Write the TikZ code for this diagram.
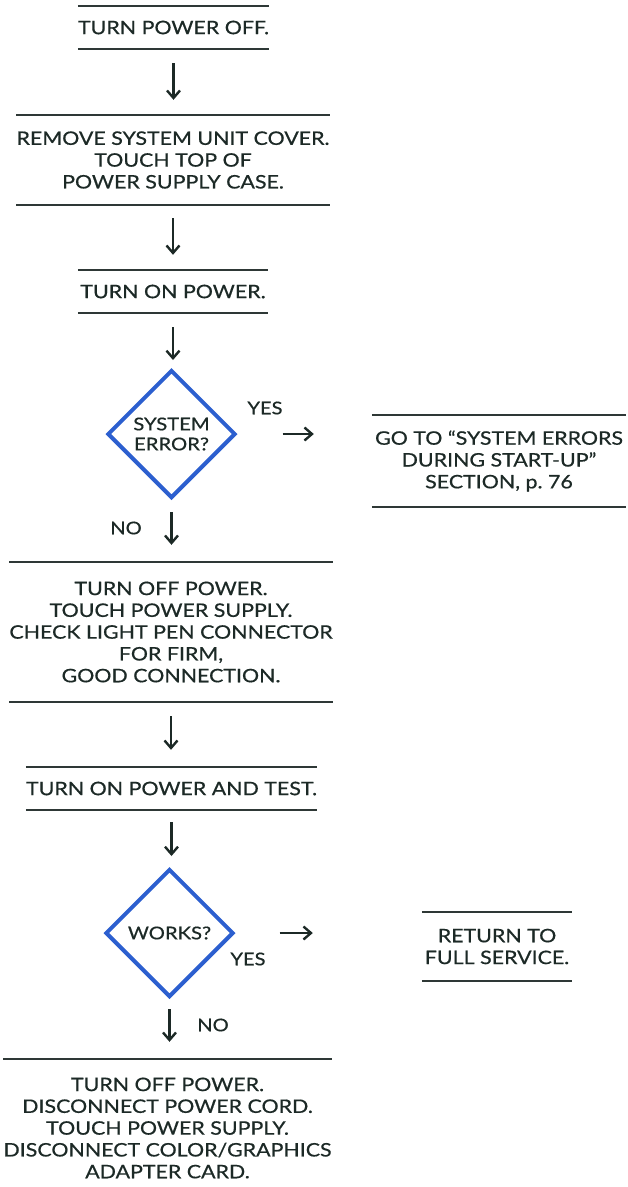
\documentclass[tikz,border=0pt]{standalone}
\usepackage{fontspec}
\setmainfont{Lato}[FakeStretch=1.15,UprightFeatures={FakeBold=0.6}]
\usetikzlibrary{shapes.geometric,arrows.meta}
\definecolor{ink}{HTML}{1C2926}
\definecolor{rulecol}{HTML}{2E3836}
\definecolor{dblue}{HTML}{2C5FCF}
\begin{document}
\begin{tikzpicture}[x=1pt,y=-1pt,
  txt/.style={font=\fontsize{18.6}{21.8}\selectfont, text=ink, align=center, inner sep=0pt},
  stepbox/.style={txt, minimum width=#1, anchor=center},
  rule/.style={draw=rulecol, line width=1.8pt},
  decision/.style={shape=diamond, draw=dblue, line width=4pt, aspect=1, inner sep=0pt,
    minimum width=128pt, minimum height=128pt, text=ink, align=center,
    font=\fontsize{17.6}{20}\selectfont},
  arr/.style={draw=ink, line width=2.4pt, -{Straight Barb[length=7.5pt,width=13pt,line width=2.4pt]}},
  lbl/.style={txt, font=\fontsize{17.5}{20}\selectfont}
]
\useasboundingbox (0,0) rectangle (628,1187);

\node[stepbox=191pt, minimum height=43pt] (b1) at (173.5,27.5) {TURN POWER OFF.};
\node[stepbox=300pt, minimum height=90pt] (b2) at (173,160) {REMOVE SYSTEM UNIT COVER.\\TOUCH TOP OF\\POWER SUPPLY CASE.};
\node[stepbox=190pt, minimum height=43pt] (b3) at (173,291.5) {TURN ON POWER.};
\node[decision] (d1) at (171.5,434) {SYSTEM\\ERROR?};
\node[stepbox=254pt, minimum height=92pt] (go) at (499,461) {GO TO ``SYSTEM ERRORS\\DURING START-UP''\\SECTION, p.\ 76};
\node[stepbox=322pt, minimum height=140pt] (b4) at (171,632) {TURN OFF POWER.\\TOUCH POWER SUPPLY.\\CHECK LIGHT PEN CONNECTOR\\FOR FIRM,\\GOOD CONNECTION.};
\node[stepbox=277pt, minimum height=43pt] (b5) at (171.5,788.5) {TURN ON POWER AND TEST.};
\node[decision] (d2) at (169.5,933) {WORKS?};
\node[stepbox=150pt, minimum height=69pt] (ret) at (497,946.5) {RETURN TO\\FULL SERVICE.};
\node[stepbox=321pt, minimum height=138pt] (b6) at (167.5,1128) {TURN OFF POWER.\\DISCONNECT POWER CORD.\\TOUCH POWER SUPPLY.\\DISCONNECT COLOR/GRAPHICS\\ADAPTER CARD.};

\foreach \n in {b1,b2,b3,go,b4,b5,ret}
  \draw[rule] (\n.north west) -- (\n.north east) (\n.south west) -- (\n.south east);
\draw[rule] (b6.north west) -- (b6.north east);

\node[lbl] (y1) at (265,408) {YES};
\node[lbl] (n1) at (126,528) {NO};
\node[lbl] (y2) at (248,959) {YES};
\node[lbl] (n2) at (213,1025) {NO};

\draw[arr, shorten <=14pt, shorten >=15pt] (b1.south) -- (b1.south |- b2.north);
\draw[arr, shorten <=13pt, shorten >=15pt] (b2.south) -- (b2.south |- b3.north);
\draw[arr, shorten <=14pt, shorten >=8pt] (b3.south) -- (b3.south |- d1.north);
\draw[arr, shorten <=12pt, shorten >=17pt] (d1.south) -- (d1.south |- b4.north);
\draw[arr, shorten <=14pt, shorten >=17pt] (b4.south) -- (b4.south |- b5.north);
\draw[arr, shorten <=12pt, shorten >=11pt] (b5.south) -- (b5.south |- d2.north);
\draw[arr, shorten <=10pt, shorten >=17pt] (d2.south) -- (d2.south |- b6.north);
\draw[arr, shorten <=45pt, shorten >=58pt] (d1.east) -- (d1.east -| go.west);
\draw[arr, shorten <=44pt, shorten >=109pt] (d2.east) -- (d2.east -| ret.west);
\end{tikzpicture}
\end{document}
